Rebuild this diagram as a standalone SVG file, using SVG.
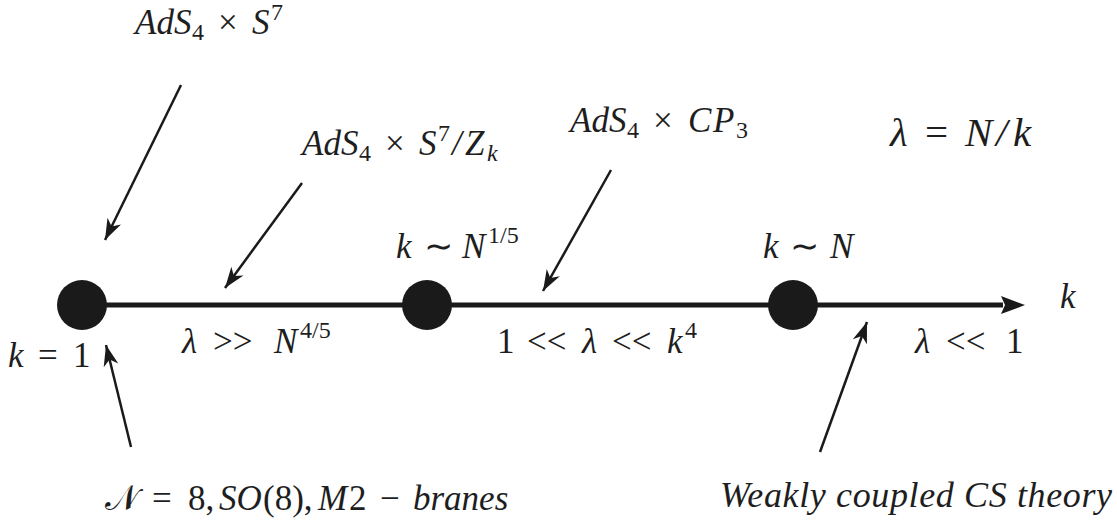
<svg xmlns="http://www.w3.org/2000/svg" width="1117" height="529" viewBox="0 0 1117 529">
<defs>
<marker id="ah" viewBox="-22 -8 24 16" markerWidth="24" markerHeight="16" refX="0" refY="0" orient="auto" markerUnits="userSpaceOnUse">
<path d="M0,0 L-21,-7.5 L-15,0 L-21,7.5 Z" fill="#1a1a1a"/>
</marker>
</defs>
<g id="connectors" stroke="#1a1a1a" fill="none">
<line x1="82" y1="305" x2="1003" y2="305" stroke-width="5"/>
<path d="M1025,305 L1001,296 L1005,305 L1001,314 Z" fill="#1a1a1a" stroke="none"/>
<line stroke-width="2.5" x1="181" y1="85" x2="105" y2="240" marker-end="url(#ah)"/>
<line stroke-width="2.5" x1="302" y1="183" x2="225" y2="288" marker-end="url(#ah)"/>
<line stroke-width="2.5" x1="611" y1="170" x2="543" y2="291" marker-end="url(#ah)"/>
<line stroke-width="2.5" x1="131" y1="447" x2="106" y2="345" marker-end="url(#ah)"/>
<line stroke-width="2.5" x1="820" y1="452" x2="867" y2="322" marker-end="url(#ah)"/>
</g>
<g id="node-k1"><circle cx="82" cy="305" r="25" fill="#1a1a1a"/></g>
<g id="node-k15"><circle cx="427" cy="305" r="25" fill="#1a1a1a"/></g>
<g id="node-kN"><circle cx="793" cy="305" r="25" fill="#1a1a1a"/></g>
<g id="labels" fill="#1e1e1e">
<text font-family="Liberation Serif" style="font-family:'Liberation Serif'" font-size="35" x="135" y="34"><tspan font-style="italic">AdS</tspan><tspan font-size="24" x="192" y="40">4</tspan><tspan x="218" y="34">×</tspan><tspan font-style="italic" x="252">S</tspan><tspan font-size="24" x="271" y="20">7</tspan></text>
<text font-family="Liberation Serif" style="font-family:'Liberation Serif'" font-size="35" x="302" y="155"><tspan font-style="italic">AdS</tspan><tspan font-size="24" x="359" y="161">4</tspan><tspan x="385" y="155">×</tspan><tspan font-style="italic" x="419">S</tspan><tspan font-size="24" x="438" y="141">7</tspan><tspan font-style="italic" x="452" y="155">/</tspan><tspan font-style="italic" x="465">Z</tspan><tspan font-style="italic" font-size="24" x="487" y="161">k</tspan></text>
<text font-family="Liberation Serif" style="font-family:'Liberation Serif'" font-size="35" x="570" y="132"><tspan font-style="italic">AdS</tspan><tspan font-size="24" x="627" y="138">4</tspan><tspan x="653" y="132">×</tspan><tspan font-style="italic" x="688">C</tspan><tspan font-style="italic" x="713">P</tspan><tspan font-size="24" x="736" y="138">3</tspan></text>
<text font-family="Liberation Serif" style="font-family:'Liberation Serif'" font-size="41" x="890" y="146"><tspan font-style="italic">λ</tspan><tspan x="925">=</tspan><tspan font-style="italic" x="965">N</tspan><tspan font-style="italic" x="996">/</tspan><tspan font-style="italic" x="1013">k</tspan></text>
<text font-family="Liberation Serif" style="font-family:'Liberation Serif'" font-size="35" x="396" y="258"><tspan font-style="italic">k</tspan><tspan x="424">∼</tspan><tspan font-style="italic" x="462">N</tspan><tspan font-size="24" x="488" y="243">1/5</tspan></text>
<text font-family="Liberation Serif" style="font-family:'Liberation Serif'" font-size="35" x="763" y="258"><tspan font-style="italic">k</tspan><tspan x="790">∼</tspan><tspan font-style="italic" x="830">N</tspan></text>
<text font-family="Liberation Serif" style="font-family:'Liberation Serif'" font-size="35" font-style="italic" x="1060" y="308">k</text>
<text font-family="Liberation Serif" style="font-family:'Liberation Serif'" font-size="35" x="8" y="367"><tspan font-style="italic">k</tspan><tspan x="38">=</tspan><tspan x="73">1</tspan></text>
<text font-family="Liberation Serif" style="font-family:'Liberation Serif'" font-size="35" x="182" y="353"><tspan font-style="italic">λ</tspan><tspan x="213">&gt;&gt;</tspan><tspan font-style="italic" x="274">N</tspan><tspan font-size="24" x="300" y="338">4/5</tspan></text>
<text font-family="Liberation Serif" style="font-family:'Liberation Serif'" font-size="35" x="497" y="353"><tspan>1</tspan><tspan x="527">&lt;&lt;</tspan><tspan font-style="italic" x="582">λ</tspan><tspan x="612">&lt;&lt;</tspan><tspan font-style="italic" x="667">k</tspan><tspan font-size="24" x="685" y="338">4</tspan></text>
<text font-family="Liberation Serif" style="font-family:'Liberation Serif'" font-size="35" x="915" y="353"><tspan font-style="italic">λ</tspan><tspan x="946">&lt;&lt;</tspan><tspan x="1006">1</tspan></text>
<text font-family="Liberation Serif" style="font-family:'Liberation Serif'" font-size="35" x="105" y="510"><tspan>𝒩</tspan><tspan x="152">=</tspan><tspan x="188">8,</tspan><tspan font-style="italic" x="219">SO</tspan><tspan x="263">(8),</tspan><tspan font-style="italic" x="318">M</tspan><tspan x="349">2</tspan><tspan x="380">−</tspan><tspan font-style="italic" x="413">branes</tspan></text>
<text font-family="Liberation Serif" style="font-family:'Liberation Serif'" font-size="36" font-style="italic" x="720" y="507" textLength="392" lengthAdjust="spacing">Weakly coupled CS theory</text>
</g>
</svg>
